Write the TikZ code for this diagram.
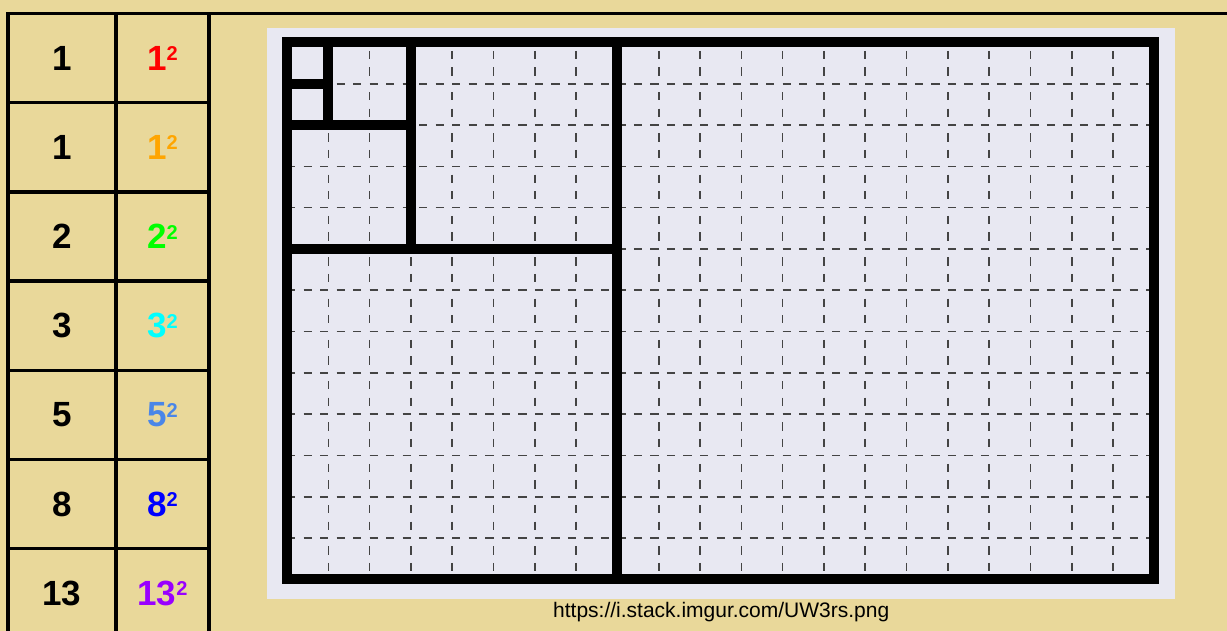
\documentclass[tikz,border=0pt]{standalone}
\usepackage{fontspec}
\setmainfont{Liberation Sans}
\usepackage{tikz}
\usetikzlibrary{positioning}
\definecolor{paper}{HTML}{E9D89A}
\definecolor{board}{HTML}{E8E8F2}
\definecolor{gridline}{HTML}{444444}
\definecolor{onecol}{HTML}{FF0000}
\definecolor{orng}{HTML}{FFA500}
\definecolor{twocol}{HTML}{00FF00}
\definecolor{threecol}{HTML}{00FFFF}
\definecolor{fivecol}{HTML}{4A86E8}
\definecolor{eightcol}{HTML}{0000FF}
\definecolor{thirteen}{HTML}{9900FF}
\newcommand{\sqr}[1]{#1\raisebox{9.5pt}{\fontsize{20}{20}\selectfont 2}}

\begin{document}
\begin{tikzpicture}[
  x=1pt, y=-1pt,
  font=\bfseries\fontsize{35}{40}\selectfont,
  cell/.style={draw, line width=3.5pt, outer sep=0pt, inner sep=0pt,
               minimum height=89.2pt},
  numcell/.style={cell, minimum width=108pt},
  sqcell/.style={cell, minimum width=93pt},
  fib/.style={line width=10pt},
  vdash/.style={gridline, line width=1.6pt,
                dash pattern=on 0pt off 8.26pt on 8.26pt off 8.26pt on 8.26pt off 8.26pt},
  hdash/.style={gridline, line width=1.6pt,
                dash pattern=on 8.26pt off 8.26pt on 8.26pt off 8.26pt on 8.26pt},
]
\fill[paper] (0,0) rectangle (1227,631);
\useasboundingbox (0,0) rectangle (1227,631);

% table of Fibonacci numbers and their squares
\node[numcell] (num0) at (62,58.1) {1};
\node[sqcell, text=onecol, right=0pt of num0] (sq0) {\sqr{1}};
\foreach \n/\c [count=\i, remember=\i as \last (initially 0)] in
    {1/orng, 2/twocol, 3/threecol, 5/fivecol, 8/eightcol, 13/thirteen} {
  \node[numcell, below=0pt of num\last] (num\i) {\n};
  \node[sqcell, text=\c, right=0pt of num\i] (sq\i) {\sqr{\n}};
}
\coordinate (edge) at (1227,13.5);
\draw[line width=3.5pt] (num0.north west) -- (edge);

% picture of the squares
\node[fill=board, inner sep=0pt, minimum width=908pt, minimum height=571pt,
      anchor=north west] (panel) at (267,28) {};
\begin{scope}[shift={(287,42.5)}, x=41.3pt, y=-41.3pt]
  \foreach \k in {1,...,20}
    \draw[vdash] (\k,0) -- (\k,13);
  \foreach \k in {1,...,12}
    \draw[hdash] (0,\k) -- (21,\k);
  \foreach \a/\b/\s in {0/0/1, 0/1/1, 1/0/2, 0/2/3, 3/0/5, 0/5/8, 8/0/13}
    \draw[fib] (\a,\b) rectangle ++(\s,\s);
\end{scope}
\node[font=\fontsize{21}{24}\selectfont, below=-1pt of panel] (src)
  {https://i.stack.imgur.com/UW3rs.png};
\end{tikzpicture}
\end{document}
